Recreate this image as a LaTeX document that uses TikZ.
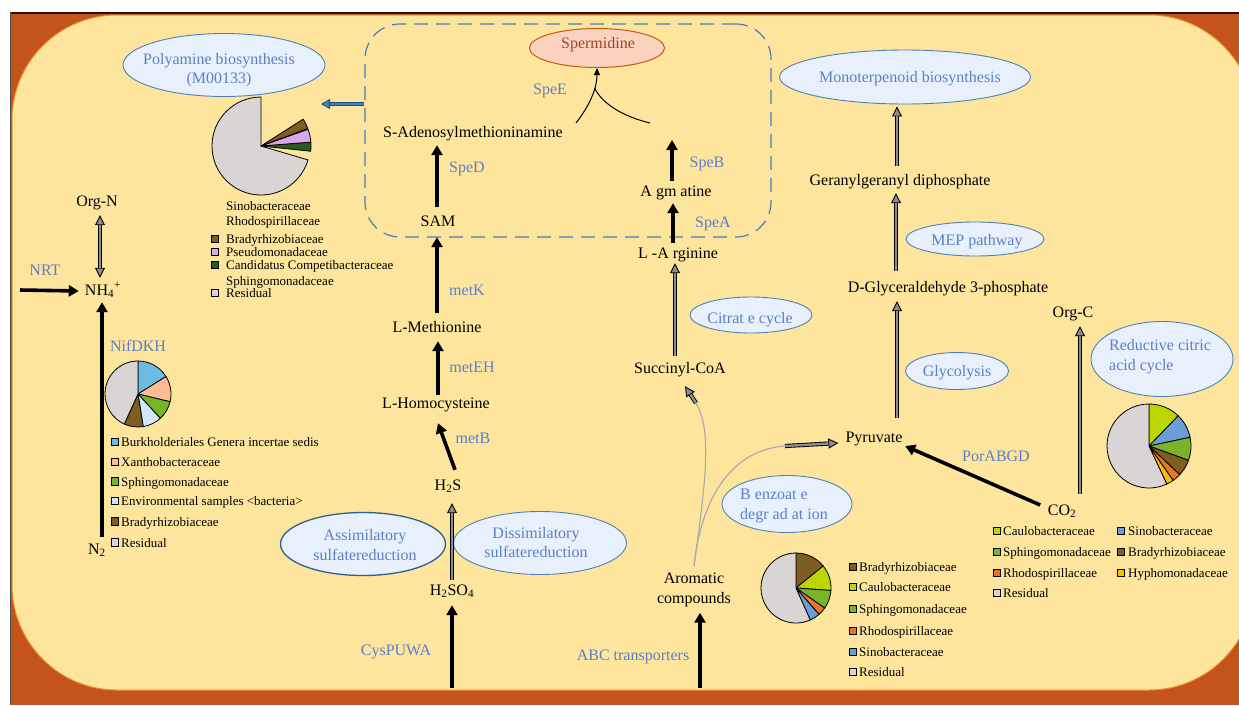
\documentclass[tikz,border=0pt]{standalone}
\usepackage{fontspec}
\setmainfont{Liberation Serif}
\usetikzlibrary{shapes.geometric,arrows.meta}
\definecolor{frameorange}{HTML}{C4541A}
\definecolor{edgeorange}{HTML}{E8922E}
\definecolor{bgyellow}{HTML}{FDE59E}
\definecolor{ellfill}{HTML}{E7F0FB}
\definecolor{ellborder}{HTML}{4F7FB8}
\definecolor{ellborderdk}{HTML}{2E5E8E}
\definecolor{bluetxt}{HTML}{5B80C6}
\definecolor{spfill}{HTML}{FAD2BE}
\definecolor{spborder}{HTML}{C55A11}
\definecolor{sptxt}{HTML}{A0452C}
\definecolor{holgray}{HTML}{8E8E8E}
\definecolor{thingray}{HTML}{A9A9A9}
\definecolor{dashblue}{HTML}{4A7EBB}
\definecolor{blueout}{HTML}{1F4E79}
\definecolor{bluein}{HTML}{3F7FC4}
\definecolor{pgray}{HTML}{D9D5D4}
\definecolor{pbrown}{HTML}{7F5C21}
\definecolor{ppink}{HTML}{D8A6EA}
\definecolor{pdkgreen}{HTML}{2F5A1F}
\definecolor{plblue}{HTML}{6CBBE3}
\definecolor{ppeach}{HTML}{F8BD92}
\definecolor{pgreen}{HTML}{78B32A}
\definecolor{pvlblue}{HTML}{D3E6FA}
\definecolor{pyg}{HTML}{BBD600}
\definecolor{pblue}{HTML}{6A9ED8}
\definecolor{porange}{HTML}{E97625}
\definecolor{pyellow}{HTML}{F6BE00}
\newcommand\holarr[2]{\draw[holo] #1 -- #2;\draw[holi] #1 -- #2;}
\newcommand\holarrb[2]{\draw[holob] #1 -- #2;\draw[holib] #1 -- #2;}
\newcommand\bluarr[2]{\draw[blo] #1 -- #2;\draw[bli] #1 -- #2;}
\newcommand\pieslice[5]{\filldraw[fill=#5,draw=black,line width=0.8pt,line join=round] (#1) -- ++(#2:#4pt) arc[start angle=#2,end angle=#3,radius=#4pt] -- cycle;}
\begin{document}
\begin{tikzpicture}[x=1pt,y=-1pt,
  txt/.style={font=\fontsize{16}{19.5}\selectfont, inner sep=0pt, text height=11.5pt, text depth=3.5pt, align=center},
  txtm/.style={font=\fontsize{16}{19.5}\selectfont, inner sep=0pt, align=center},
  enz/.style={txt, text=bluetxt},
  enzm/.style={txtm, text=bluetxt},
  ell/.style={ellipse, draw=ellborder, fill=ellfill, line width=0.9pt, inner sep=0pt},
  leg/.style={font=\fontsize{13}{15}\selectfont, anchor=west, inner sep=0pt, text height=9pt, text depth=3pt},
  sq/.style={draw=black, line width=0.8pt, minimum size=7.5pt, inner sep=0pt},
  blk/.style={draw=black, line width=3.6pt, -{Triangle[length=10pt,width=11pt]}},
  thinarr/.style={draw=black, line width=1pt},
  thingr/.style={draw=thingray, line width=1.1pt},
  holo/.style={draw=black, line width=4.2pt, -{Triangle[length=10pt,width=10pt,fill=holgray,line width=0.9pt]}},
  holi/.style={draw=holgray, line width=2.4pt, shorten >=10pt},
  holob/.style={draw=black, line width=4.2pt, {Triangle[length=10pt,width=10pt,fill=holgray,line width=0.9pt]}-{Triangle[length=10pt,width=10pt,fill=holgray,line width=0.9pt]}},
  holib/.style={draw=holgray, line width=2.4pt, shorten >=10pt, shorten <=10pt},
  blo/.style={draw=blueout, line width=4.4pt, -{Triangle[length=9pt,width=10pt,fill=bluein,line width=0.8pt]}},
  bli/.style={draw=bluein, line width=2.4pt, shorten >=9pt},
]
\useasboundingbox (0,0) rectangle (1239,705);
% background frame
\fill[white] (0,0) rectangle (1239,705);
\fill[frameorange] (10,12) rectangle (1239,705);
\draw[black!80!frameorange, line width=2pt] (10,13) -- (1239,13);
\draw[black!70, line width=1pt] (10.5,12) -- (10.5,705);
\filldraw[fill=bgyellow, draw=edgeorange, line width=1pt, rounded corners=105pt] (12,15) rectangle (1254,690);

% dashed box
\node[draw=dashblue, line width=1.2pt, dash pattern=on 14pt off 8pt, rounded corners=35pt, minimum width=406pt, minimum height=213pt, inner sep=0pt] (dbox) at (568,130.5) {};

% free coordinates
\coordinate (nrt0) at (20,290);
\coordinate (cys0) at (452,688);
\coordinate (abc0) at (700,688);
\coordinate (agmtop) at (672,140);
\coordinate (spe1) at (576,123);
\coordinate (spe2) at (650,123);
\coordinate (spej) at (594.5,88);
\coordinate (bz1) at (696,403);
\coordinate (bz2) at (785,446);
\coordinate (pa) at (321,104);
\coordinate (pc1) at (261,146);
\coordinate (pc2) at (138,394);
\coordinate (pc3) at (1149,446);
\coordinate (pc4) at (796,588);

% ellipses
\node[ell, minimum width=202pt, minimum height=63pt] (poly) at (224,65) {};
\node[ellipse, draw=spborder, fill=spfill, line width=1pt, inner sep=0pt, minimum width=135pt, minimum height=39pt] (sperm) at (597,48) {};
\node[ell, minimum width=251pt, minimum height=54pt] (mono) at (905,77) {};
\node[ell, minimum width=138pt, minimum height=34pt] (mep) at (975,239) {};
\node[ell, minimum width=122pt, minimum height=36pt] (citr) at (751,315) {};
\node[ell, minimum width=103pt, minimum height=37pt] (glyc) at (957,371) {};
\node[ell, minimum width=142pt, minimum height=75pt] (redu) at (1162,359) {};
\node[ell, minimum width=130pt, minimum height=57pt] (benz) at (787,504) {};
\node[ell, draw=ellborderdk, line width=1.3pt, minimum width=165pt, minimum height=63pt] (assim) at (363,544) {};
\node[ell, minimum width=173pt, minimum height=63pt] (dissim) at (540,543) {};

\node[enzm] (polyt) at (219,70) {Polyamine biosynthesis\\(M00133)};
\node[txt, text=sptxt] (spermt) at (598,44.5) {Spermidine};
\node[enz] (monot) at (910,78) {Monoterpenoid biosynthesis};
\node[enz] (mept) at (977,241) {MEP pathway};
\node[enz] (citrt) at (750,319) {Citrat e cycle};
\node[enz] (glyct) at (957,372) {Glycolysis};
\node[enzm, align=left] (redut) at (1160,356.5) {Reductive citric\\acid cycle};
\node[enzm, align=left] (benzt) at (784,506) {B enzoat e\\degr ad at ion};
\node[enzm] (assimt) at (365,545) {Assimilatory\\sulfatereduction};
\node[enzm] (dissimt) at (536,542.5) {Dissimilatory\\sulfatereduction};

% text nodes
\node[txt] (orgn) at (97,202) {Org-N};
\node[txt] (nh4) at (103,291) {NH\textsubscript{4}\textsuperscript{+}};
\node[enz] (nrt) at (45,271) {NRT};
\node[txt] (n2) at (97,550) {N\textsubscript{2}};
\node[enz] (nif) at (138,347) {NifDKH};
\node[txt] (sado) at (473,133) {S-Adenosylmethioninamine};
\node[txt] (sam) at (438,222) {SAM};
\node[enz] (sped) at (467,168) {SpeD};
\node[enz] (metk) at (467,291) {metK};
\node[txt] (lmet) at (437,328) {L-Methionine};
\node[enz] (meteh) at (472,368) {metEH};
\node[txt] (lhom) at (436,404) {L-Homocysteine};
\node[enz] (metb) at (473,439) {metB};
\node[txt] (h2s) at (448,486) {H\textsubscript{2}S};
\node[txt] (h2so4) at (452,591) {H\textsubscript{2}SO\textsubscript{4}};
\node[enz] (cys) at (396,651) {CysPUWA};
\node[enz] (abc) at (633,656) {ABC transporters};
\node[txtm] (arom) at (694,590) {Aromatic\\compounds};
\node[txt] (succ) at (680,369) {Succinyl-CoA};
\node[txt] (larg) at (678,254) {L -A rginine};
\node[txt] (agm) at (676,192) {A gm atine};
\node[enz] (speb) at (707,163) {SpeB};
\node[enz] (spea) at (713,223) {SpeA};
\node[enz] (spee) at (550,90) {SpeE};
\node[txt] (gera) at (900,181) {Geranylgeranyl diphosphate};
\node[txt] (dgly) at (948,288) {D-Glyceraldehyde 3-phosphate};
\node[txt] (orgc) at (1073,313) {Org-C};
\node[txt] (pyr) at (874,438) {Pyruvate};
\node[enz] (por) at (996,457) {PorABGD};
\node[txt] (co2) at (1062,511) {CO\textsubscript{2}};

% pies
\pieslice{pc1}{90}{343.5}{49}{pgray}
\pieslice{pc1}{-6}{4.5}{50}{pdkgreen}
\pieslice{pc1}{4.5}{19.5}{50}{ppink}
\pieslice{pc1}{20.5}{32.5}{50}{pbrown}

\pieslice{pc2}{32}{90}{33}{plblue}
\pieslice{pc2}{-13.6}{32}{33}{ppeach}
\pieslice{pc2}{-47.5}{-13.6}{33}{pgreen}
\pieslice{pc2}{-81}{-47.5}{33}{pvlblue}
\pieslice{pc2}{-114.6}{-81}{33}{pbrown}
\pieslice{pc2}{90}{245.4}{33}{pgray}

\pieslice{pc3}{46}{90}{42}{pyg}
\pieslice{pc3}{12}{46}{42}{pblue}
\pieslice{pc3}{-20}{12}{42}{pgreen}
\pieslice{pc3}{-43}{-20}{42}{pbrown}
\pieslice{pc3}{-55}{-43}{42}{porange}
\pieslice{pc3}{-65}{-55}{42}{pyellow}
\pieslice{pc3}{90}{295}{42}{pgray}

\pieslice{pc4}{39}{90}{35}{pbrown}
\pieslice{pc4}{-4}{39}{35}{pyg}
\pieslice{pc4}{-35}{-4}{35}{pgreen}
\pieslice{pc4}{-49}{-35}{35}{porange}
\pieslice{pc4}{-66}{-49}{35}{pblue}
\pieslice{pc4}{90}{294}{35}{pgray}

% legends
\foreach \t/\c/\y [count=\i] in {Burkholderiales Genera incertae sedis/plblue/442, Xanthobacteraceae/ppeach/462, Sphingomonadaceae/pgreen/481.5, Environmental samples <bacteria>/pvlblue/501, Bradyrhizobiaceae/pbrown/521.5, Residual/pgray/542.5} {
  \node[sq, fill=\c] (nfs\i) at (115,\y) {};
  \node[leg] (nfl\i) at (121,\y+1.5) {\t};
}
\foreach \t/\y [count=\i] in {Sinobacteraceae/206, Rhodospirillaceae/221, Bradyrhizobiaceae/239, Pseudomonadaceae/252, Candidatus Competibacteraceae/265, Sphingomonadaceae/281, Residual/293} {
  \node[leg] (pal\i) at (226,\y+1.5) {\t};
}
\foreach \c/\y [count=\i] in {pbrown/239, ppink/252, pdkgreen/265, pgray/293} {
  \node[sq, fill=\c] (pas\i) at (215,\y) {};
}
\foreach \t/\c/\y [count=\i] in {Caulobacteraceae/pyg/531, Sphingomonadaceae/pgreen/552, Rhodospirillaceae/porange/573, Residual/pgray/593} {
  \node[sq, fill=\c] (cas\i) at (997,\y) {};
  \node[leg] (cal\i) at (1003,\y+1.5) {\t};
}
\foreach \t/\c/\y [count=\i] in {Sinobacteraceae/pblue/531, Bradyrhizobiaceae/pbrown/552, Hyphomonadaceae/pyellow/573} {
  \node[sq, fill=\c] (cbs\i) at (1121,\y) {};
  \node[leg] (cbl\i) at (1128,\y+1.5) {\t};
}
\foreach \t/\c/\y [count=\i] in {Bradyrhizobiaceae/pbrown/567, Caulobacteraceae/pyg/587, Sphingomonadaceae/pgreen/609, Rhodospirillaceae/porange/631, Sinobacteraceae/pblue/652, Residual/pgray/672} {
  \node[sq, fill=\c] (ars\i) at (853,\y) {};
  \node[leg] (arl\i) at (859,\y+1.5) {\t};
}

% black arrows
\draw[blk] (nrt0) -- ([xshift=-6pt]nh4.west);
\draw[blk] ([xshift=5pt,yshift=5.5pt]n2.north) -- ([xshift=-1pt,yshift=-3.5pt]nh4.south);
\draw[blk] ([yshift=7.5pt]lmet.north) -- ([xshift=-1pt,yshift=-7.5pt]sam.south);
\draw[blk] ([xshift=-1pt,yshift=7.5pt]sam.north) -- ([xshift=-36pt,yshift=-4.5pt]sado.south);
\draw[blk] ([xshift=2pt,yshift=1.5pt]lhom.north) -- ([xshift=1pt,yshift=-5.5pt]lmet.south);
\draw[blk] ([xshift=7pt,yshift=8.5pt]h2s.north) -- ([xshift=2pt,yshift=-11.5pt]lhom.south);
\draw[blk] (cys0) -- ([yshift=-6.5pt]h2so4.south);
\draw[blk] (abc0) -- ([xshift=6pt,yshift=-5.75pt]arom.south);
\draw[blk] ([xshift=-5pt,yshift=3.5pt]larg.north) -- ([xshift=-3pt,yshift=-3.5pt]agm.south);
\draw[blk] ([xshift=-4pt,yshift=3.5pt]agm.north) -- (agmtop);
\draw[blk] ([xshift=-7.4pt,yshift=6pt]co2.west) -- ([xshift=2.5pt,yshift=-8pt]pyr.east);

% SpeE curves
\draw[thinarr, -{Triangle[length=7pt,width=6pt]}] (spe1) .. controls (590,105) and (597,88) .. (sperm.south);
\draw[thinarr] (spe2) .. controls (625,117) and (603,105) .. (spej);

% hollow arrows
\holarrb{([xshift=3pt,yshift=-5.5pt]orgn.south)}{([xshift=-3pt,yshift=5.5pt]nh4.north)}
\holarr{([xshift=-5pt,yshift=5.5pt]succ.north)}{([xshift=-3pt,yshift=-1.5pt]larg.south)}
\holarr{([xshift=-3pt,yshift=7.5pt]gera.north)}{([xshift=-8pt,yshift=-2pt]mono.south)}
\holarr{([xshift=-52pt,yshift=9.5pt]dgly.north)}{([xshift=-4pt,yshift=-4.5pt]gera.south)}
\holarr{([xshift=23pt,yshift=12.5pt]pyr.north)}{([xshift=-51pt,yshift=-5.5pt]dgly.south)}
\holarr{([xshift=18pt,yshift=9.5pt]co2.north)}{([xshift=7pt,yshift=-5.5pt]orgc.south)}
\holarr{([yshift=3.5pt]h2so4.north)}{([xshift=4pt,yshift=-9.5pt]h2s.south)}

% benzoate curves
\draw[thingr] ([yshift=7pt]arom.north) .. controls (706,480) and (712,430) .. (bz1);
\draw[thingr] ([yshift=7pt]arom.north) .. controls (701,500) and (730,450) .. (bz2);
\holarr{(bz1)}{([xshift=5pt,yshift=-9.5pt]succ.south)}
\holarr{(bz2)}{([xshift=-7pt,yshift=-5pt]pyr.west)}

% blue arrow
\bluarr{([yshift=26.5pt]dbox.west)}{(pa)}
\end{tikzpicture}
\end{document}
